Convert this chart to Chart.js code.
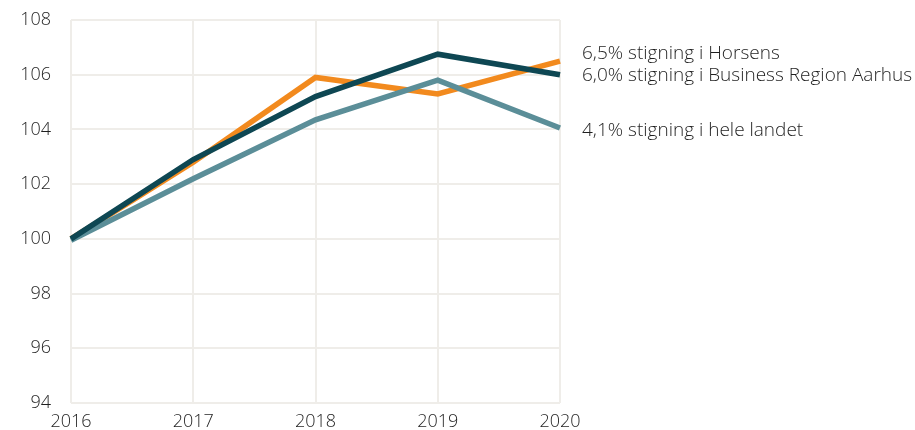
<!DOCTYPE html>
<html>
<head>
<meta charset="utf-8">
<script src="https://cdn.jsdelivr.net/npm/chart.js@4/dist/chart.umd.min.js"></script>
<style>
    html, body { margin: 0; padding: 0; background: #fff; overflow: hidden; }
    canvas { display: block; }
</style>
</head>
<body>
<canvas id="chart" width="915" height="430"></canvas>
<script>
const years = ["2016", "2017", "2018", "2019", "2020"];
const horsens = [100, 102.8, 105.9, 105.3, 106.5];
const aarhus = [100, 102.9, 105.2, 106.75, 106.0];
const landet = [99.95, 102.2, 104.35, 105.8, 104.05];
const endLabels = [
    "6,5% stigning i Horsens",
    "6,0% stigning i Business Region Aarhus",
    "4,1% stigning i hele landet"
];
const yTicks = [94, 96, 98, 100, 102, 104, 106, 108];

const fontFamily = "'Open Sans', sans-serif";
const labelShift = [-7, 1, 3];

// draws the text next to the last point of each line
const endLabelPlugin = {
    id: "endLabels",
    afterDatasetsDraw(chart) {
        const ctx = chart.ctx;
        ctx.save();
        ctx.font = "300 19px " + fontFamily;
        ctx.fillStyle = "#1f1f1f";
        ctx.textBaseline = "middle";
        ctx.textAlign = "left";
        chart.data.datasets.forEach((ds, i) => {
            const pts = chart.getDatasetMeta(i).data;
            const last = pts[pts.length - 1];
            ctx.fillText(endLabels[i], last.x + 22, last.y + labelShift[i]);
        });
        ctx.restore();
    }
};

new Chart(document.getElementById("chart"), {
    type: "line",
    data: {
        labels: years,
        datasets: [
            { data: horsens, borderColor: "#F28A1E", order: 3 },
            { data: aarhus, borderColor: "#0E4753", order: 1 },
            { data: landet, borderColor: "#5B8E98", order: 2 }
        ].map(d => Object.assign(d, {
            borderWidth: 5.5,
            pointRadius: 0,
            tension: 0,
            fill: false,
            borderCapStyle: "butt",
            borderJoinStyle: "miter"
        }))
    },
    options: {
        responsive: false,
        animation: false,
        layout: { padding: { top: 20, right: 355, bottom: 0, left: 0 } },
        scales: {
            x: {
                offset: false,
                grid: { color: "#EFEDE9", lineWidth: 2, drawTicks: false },
                border: { display: false },
                afterFit(axis) {
                    axis.height = 27;
                    axis.paddingLeft = 0;
                    axis.paddingRight = 0;
                },
                ticks: {
                    color: "#1f1f1f",
                    font: { family: fontFamily, size: 18, weight: "300" },
                    padding: 8,
                    maxRotation: 0
                }
            },
            y: {
                min: 94,
                max: 108,
                afterBuildTicks(axis) {
                    axis.ticks = yTicks.map(v => ({ value: v }));
                },
                afterFit(axis) {
                    axis.width = 71;
                    axis.paddingTop = 0;
                    axis.paddingBottom = 0;
                },
                grid: { color: "#EFEDE9", lineWidth: 2, drawTicks: false },
                border: { display: false },
                ticks: {
                    color: "#1f1f1f",
                    font: { family: fontFamily, size: 18, weight: "300" },
                    padding: 20
                }
            }
        },
        plugins: {
            legend: { display: false },
            tooltip: { enabled: false }
        }
    },
    plugins: [endLabelPlugin]
});
</script>
</body>
</html>
